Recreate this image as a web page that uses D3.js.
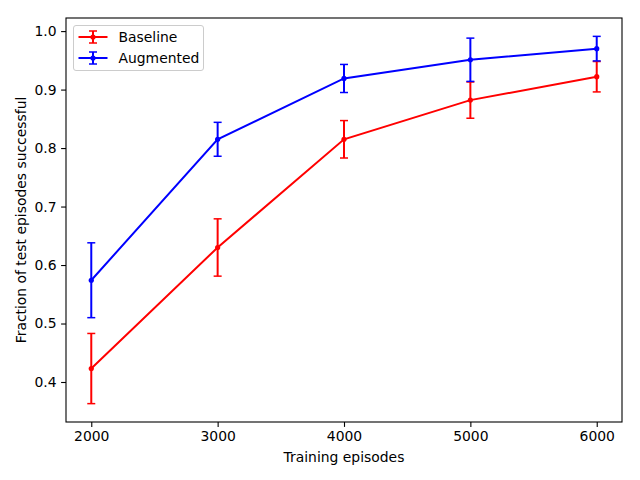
<!DOCTYPE html>
<html>
<head>
<meta charset="utf-8">
<script src="https://cdn.jsdelivr.net/npm/d3@7"></script>
<style>
  body { margin: 0; background: #fff; }
  svg { font-family: "DejaVu Sans", sans-serif; }
</style>
</head>
<body>
<svg id="chart" width="640" height="480"></svg>
<script>
// data
var episodes = [2000, 3000, 4000, 5000, 6000];
var baseline = [0.423, 0.630, 0.815, 0.882, 0.922];
var baselineErr = [0.060, 0.049, 0.032, 0.031, 0.026];
var augmented = [0.574, 0.815, 0.919, 0.951, 0.970];
var augmentedErr = [0.064, 0.029, 0.024, 0.037, 0.021];
var yTicks = [0.4, 0.5, 0.6, 0.7, 0.8, 0.9, 1.0];

var margin = {left: 66, right: 18, top: 18, bottom: 58};
var width = 640, height = 480;

var svg = d3.select("svg#chart");

var series = [
  {name: "Baseline", color: "#ff0000", values: baseline, err: baselineErr},
  {name: "Augmented", color: "#0000ff", values: augmented, err: augmentedErr}
];

// matplotlib style 5% margins
var xPad = (d3.max(episodes) - d3.min(episodes)) * 0.05;
var lo = d3.min(series, s => d3.min(s.values, (v, i) => v - s.err[i]));
var hi = d3.max(series, s => d3.max(s.values, (v, i) => v + s.err[i]));
var yPad = (hi - lo) * 0.05;

var x = d3.scaleLinear()
  .domain([d3.min(episodes) - xPad, d3.max(episodes) + xPad])
  .range([margin.left, width - margin.right]);

var y = d3.scaleLinear()
  .domain([lo - yPad, hi + yPad])
  .range([height - margin.bottom, margin.top]);

var xAxis = svg.append("g")
  .attr("transform", translate(0, height - margin.bottom))
  .call(d3.axisBottom(x).tickValues(episodes).tickSize(4.9).tickPadding(4.5).tickFormat(d3.format("d")));

var yAxis = svg.append("g")
  .attr("transform", translate(margin.left, 0))
  .call(d3.axisLeft(y).tickValues(yTicks).tickSize(4.9).tickPadding(4.5).tickFormat(d3.format(".1f")));

[xAxis, yAxis].forEach(function(a) {
  a.select(".domain").remove();
  a.selectAll("text").attr("font-size", "13.9px").attr("fill", "#000").attr("font-family", "DejaVu Sans");
  a.selectAll("line").attr("stroke", "#000").attr("stroke-width", 1.1);
});

// frame
svg.append("rect")
  .attr("x", margin.left)
  .attr("y", margin.top)
  .attr("width", width - margin.left - margin.right)
  .attr("height", height - margin.top - margin.bottom)
  .attr("fill", "none")
  .attr("stroke", "#000")
  .attr("stroke-width", 1.1);

var line = d3.line()
  .x((d, i) => x(episodes[i]))
  .y(d => y(d));

series.forEach(function(s) {
  var g = svg.append("g");

  g.append("path")
    .datum(s.values)
    .attr("d", line)
    .attr("fill", "none")
    .attr("stroke", s.color)
    .attr("stroke-width", 2);

  var bars = g.selectAll("g.err")
    .data(s.values)
    .enter().append("g");

  bars.append("line")
    .attr("x1", (d, i) => x(episodes[i]))
    .attr("x2", (d, i) => x(episodes[i]))
    .attr("y1", (d, i) => y(d - s.err[i]))
    .attr("y2", (d, i) => y(d + s.err[i]))
    .attr("stroke", s.color)
    .attr("stroke-width", 2);

  [-1, 1].forEach(function(sign) {
    bars.append("line")
      .attr("x1", (d, i) => x(episodes[i]) - 4)
      .attr("x2", (d, i) => x(episodes[i]) + 4)
      .attr("y1", (d, i) => y(d + sign * s.err[i]))
      .attr("y2", (d, i) => y(d + sign * s.err[i]))
      .attr("stroke", s.color)
      .attr("stroke-width", 1.5);
  });

  bars.append("circle")
    .attr("cx", (d, i) => x(episodes[i]))
    .attr("cy", d => y(d))
    .attr("r", 2.6)
    .attr("fill", s.color);
});

// legend
var legend = svg.append("g").attr("transform", translate(73.5, 25.5));
legend.append("rect")
  .attr("width", 130)
  .attr("height", 45)
  .attr("rx", 2.5)
  .attr("fill", "#fff")
  .attr("fill-opacity", 0.8)
  .attr("stroke", "#cccccc");

series.forEach(function(s, i) {
  var row = legend.append("g").attr("transform", translate(5, 11.5 + i * 21));
  row.append("line").attr("x1", 0).attr("x2", 29).attr("stroke", s.color).attr("stroke-width", 2);
  row.append("line").attr("x1", 14.5).attr("x2", 14.5).attr("y1", -6).attr("y2", 6).attr("stroke", s.color).attr("stroke-width", 2);
  row.append("line").attr("x1", 10.5).attr("x2", 18.5).attr("y1", -6).attr("y2", -6).attr("stroke", s.color).attr("stroke-width", 1.5);
  row.append("line").attr("x1", 10.5).attr("x2", 18.5).attr("y1", 6).attr("y2", 6).attr("stroke", s.color).attr("stroke-width", 1.5);
  row.append("circle").attr("cx", 14.5).attr("cy", 0).attr("r", 2.6).attr("fill", s.color);
  row.append("text")
    .attr("x", 40)
    .attr("y", 5)
    .attr("font-size", "13.9px")
    .text(s.name);
});

// axis labels
svg.append("text")
  .attr("x", (margin.left + width - margin.right) / 2)
  .attr("y", 462)
  .attr("text-anchor", "middle")
  .attr("font-size", "13.9px")
  .text("Training episodes");

svg.append("text")
  .attr("transform", translate(26, (margin.top + height - margin.bottom) / 2) + " rotate(-90)")
  .attr("text-anchor", "middle")
  .attr("font-size", "13.9px")
  .text("Fraction of test episodes successful");

function translate(x, y) {
  return 'translate(' + String(x) + ',' + String(y) + ')';
}
</script>
</body>
</html>
